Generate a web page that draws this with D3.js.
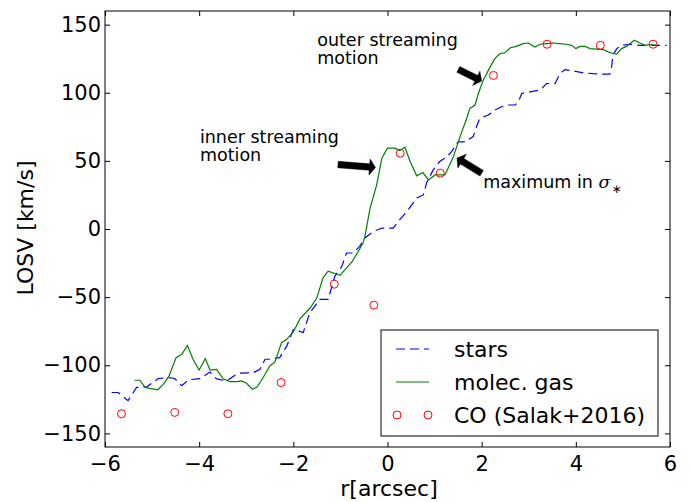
<!DOCTYPE html>
<html><head><meta charset="utf-8">
<script src="https://cdn.jsdelivr.net/npm/d3@7"></script>
<style>
body{margin:0;background:#fff}
svg{display:block}
text{font-family:"DejaVu Sans",sans-serif;fill:#000}
</style>
</head><body>
<svg id="c" width="691" height="502"></svg>
<script>
// ---- data ----
const xTicks = [-6, -4, -2, 0, 2, 4, 6];
const yTicks = [-150, -100, -50, 0, 50, 100, 150];

const starR = [-5.86,-5.72,-5.51,-5.33,-5.12,-4.87,-4.66,-4.52,-4.37,-4.23,-3.98,-3.77,-3.63,-3.42,-3.17,-2.85,-2.71,-2.6,-2.5,-2.29,-2.14,-2.0,-1.79,-1.65,-1.44,-1.26,-1.12,-0.97,-0.87,-0.73,-0.59,-0.48,-0.3,-0.12,0.12,0.26,0.44,0.62,0.76,0.83,0.97,1.11,1.26,1.36,1.5,1.64,1.82,1.89,1.96,2.14,2.28,2.42,2.56,2.71,2.78,2.85,3.03,3.24,3.38,3.56,3.66,3.77,3.94,4.16,4.37,4.58,4.72,4.76,4.79,4.87,4.97,5.15,5.36,5.64,5.93];
const starV = [-120,-120,-126,-116.3,-116,-109.8,-109,-109.7,-115,-110.7,-109.8,-105,-110,-111.5,-105.9,-105.4,-103,-95.6,-95.6,-94.4,-86,-73.7,-76,-61.5,-51.7,-51.7,-34.7,-27.4,-17.6,-17.6,-12.7,-6.6,-1.8,0.7,0.7,6.8,14.1,22.7,25,33.7,43.4,49.5,53,56.8,64,64,67.8,75,81.2,83.6,87.3,89.7,91,91,93.4,99.5,100.7,102,106.8,106.8,114,117,116,114.6,114,113.6,113.6,119,127.8,132.4,134.8,135.6,134.8,134.8,134.8];

const gasR = [-5.37,-5.26,-5.15,-5.05,-4.88,-4.76,-4.64,-4.49,-4.37,-4.25,-4.13,-4.0,-3.87,-3.77,-3.63,-3.49,-3.35,-3.2,-3.1,-3.0,-2.87,-2.77,-2.64,-2.5,-2.39,-2.25,-2.14,-2.0,-1.86,-1.64,-1.5,-1.37,-1.26,-1.01,-0.76,-0.64,-0.52,-0.48,-0.37,-0.23,-0.12,0.0,0.16,0.26,0.37,0.48,0.62,0.75,0.87,1.01,1.22,1.4,1.54,1.67,1.75,1.86,1.93,2.03,2.18,2.28,2.39,2.49,2.61,2.74,2.88,2.99,3.13,3.24,3.38,3.52,3.66,3.8,3.91,4.0,4.09,4.2,4.3,4.44,4.58,4.69,4.79,4.87,4.97,5.08,5.15,5.24,5.36,5.47,5.57,5.7];
const gasV = [-111,-111,-116.3,-117,-118,-114,-107.8,-94.4,-92,-85.6,-95.6,-103.5,-95.1,-103.5,-103,-110,-112,-112,-111.5,-113,-117.6,-116,-109,-100.5,-97.6,-83.4,-81,-75.6,-66,-57.8,-50.5,-35.8,-31,-34,-24.4,-17.6,-10.3,-5.4,15.4,32.4,52,59.3,59.3,57.5,60,49.5,39,41.4,36,39.7,39.7,53,67.8,80,88.5,91,99.5,109,119,125,128.8,129.2,133,134,136,136.5,133.6,135.6,136,136.5,136,135.6,134.8,132.4,134,134,132.4,132,131.7,130,128.8,128.3,132.4,134,136,138.5,136.5,134.8,135.4,135];

const coR = [-5.65,-4.52,-3.39,-2.26,-1.13,-0.29,0.27,1.12,2.25,3.39,4.52,5.64];
const coV = [-135.6,-134.6,-135.6,-112.7,-40.5,-55.9,55.6,41,112.7,135.6,134.8,135.6];

const legendLabels = ["stars", "molec. gas", "CO (Salak+2016)"];

// annotations in data coordinates
const annoTexts = [
  {lines:["outer streaming","motion"], r:-1.493, v:134.5},
  {lines:["inner streaming","motion"], r:-3.984, v:63.3}
];
const arrows = [
  {from:[-1.051,47.3], to:[-0.255,45.1]},
  {from:[1.504,117.1], to:[2.0,108.6]},
  {from:[2.0,40.9], to:[1.476,52.1]}
];

// ---- chart ----
const svg = d3.select("#c");
const L = 105, R = 670, T = 11, B = 447;
const x = d3.scaleLinear().domain([-6, 6]).range([L, R]);
const y = d3.scaleLinear().domain([-160, 160]).range([B, T]);

svg.append("defs").append("clipPath").attr("id","clip")
  .append("rect").attr("x",L).attr("y",T).attr("width",R-L).attr("height",B-T);

const fmt = d3.format("d");
const fs = "21px";

// axes
const gx = svg.append("g").attr("transform",`translate(0,${B})`)
  .call(d3.axisBottom(x).tickValues(xTicks).tickFormat(fmt).tickSizeInner(-5).tickSizeOuter(0).tickPadding(9));
const gxt = svg.append("g").attr("transform",`translate(0,${T})`)
  .call(d3.axisTop(x).tickValues(xTicks).tickFormat("").tickSizeInner(-5).tickSizeOuter(0));
const gy = svg.append("g").attr("transform",`translate(${L},0)`)
  .call(d3.axisLeft(y).tickValues(yTicks).tickFormat(fmt).tickSizeInner(-5).tickSizeOuter(0).tickPadding(4));
const gyr = svg.append("g").attr("transform",`translate(${R},0)`)
  .call(d3.axisRight(y).tickValues(yTicks).tickFormat("").tickSizeInner(-5).tickSizeOuter(0));
[gx,gxt,gy,gyr].forEach(g=>{
  g.select(".domain").remove();
  g.selectAll("line").attr("stroke","#000").attr("stroke-width",1);
  g.selectAll("text").attr("font-size",fs).attr("font-family","DejaVu Sans").attr("fill","#000");
});

// series
const line = d3.line().x(d=>x(d[0])).y(d=>y(d[1]));
const plot = svg.append("g").attr("clip-path","url(#clip)");
plot.append("path").datum(d3.zip(starR, starV))
  .attr("d", line).attr("fill","none").attr("stroke","#0000ff")
  .attr("stroke-width",1.2).attr("stroke-dasharray","9,5");
plot.append("path").datum(d3.zip(gasR, gasV))
  .attr("d", line).attr("fill","none").attr("stroke","#008000")
  .attr("stroke-width",1.2);
plot.selectAll("circle.co").data(d3.zip(coR, coV)).join("circle")
  .attr("class","co").attr("cx",d=>x(d[0])).attr("cy",d=>y(d[1])).attr("r",4)
  .attr("fill","none").attr("stroke","#ff0000").attr("stroke-width",1);

// frame
svg.append("rect").attr("x",L).attr("y",T).attr("width",R-L).attr("height",B-T)
  .attr("fill","none").attr("stroke","#000").attr("stroke-width",1);

// axis labels
svg.append("text").attr("x",389).attr("y",496).attr("text-anchor","middle")
  .attr("font-size","22px").text("r[arcsec]");
svg.append("text").attr("transform","translate(33,228) rotate(-90)")
  .attr("text-anchor","middle").attr("font-size","22px").text("LOSV [km/s]");

// annotations
annoTexts.forEach(a=>{
  const t = svg.append("text").attr("font-size","17.5px")
    .attr("x",x(a.r)).attr("y",y(a.v));
  a.lines.forEach((s,i)=>{
    t.append("tspan").attr("x",x(a.r)).attr("dy", i===0?0:18.5).text(s);
  });
});
const mt = svg.append("text").attr("font-size","17.5px").attr("x",x(2.033)).attr("y",y(30.3));
mt.append("tspan").text("maximum in ");
mt.append("tspan").attr("font-family","DejaVu Serif").attr("font-style","italic").text("σ");
mt.append("tspan").attr("font-size","12px").attr("dx",1).attr("dy",5).text("∗");

// arrows
arrows.forEach(a=>{
  const tx=x(a.from[0]), ty=y(a.from[1]), px=x(a.to[0]), py=y(a.to[1]);
  const dx=px-tx, dy=py-ty, len=Math.hypot(dx,dy);
  const ux=dx/len, uy=dy/len, nx=-uy, ny=ux;
  const w=6.5/2, hw=16/2, hl=6;
  const bx=px-ux*hl, by=py-uy*hl;
  const pts=[
    [tx+nx*w,ty+ny*w],[bx+nx*w,by+ny*w],[bx+nx*hw,by+ny*hw],[px,py],
    [bx-nx*hw,by-ny*hw],[bx-nx*w,by-ny*w],[tx-nx*w,ty-ny*w]
  ];
  svg.append("polygon").attr("points",pts.map(p=>p.join(",")).join(" "))
    .attr("fill","#000").attr("stroke","#000").attr("stroke-width",0.5);
});

// legend
const lg = svg.append("g");
lg.append("rect").attr("x",381).attr("y",330).attr("width",277).attr("height",106)
  .attr("fill","#fff").attr("stroke","#000").attr("stroke-width",1);
const rowsY = [349, 382, 415];
lg.append("line").attr("x1",396).attr("x2",429).attr("y1",rowsY[0]).attr("y2",rowsY[0])
  .attr("stroke","#0000ff").attr("stroke-width",1.2).attr("stroke-dasharray","9,5");
lg.append("line").attr("x1",396).attr("x2",429).attr("y1",rowsY[1]).attr("y2",rowsY[1])
  .attr("stroke","#008000").attr("stroke-width",1.2);
[397,428].forEach(cx=>lg.append("circle").attr("cx",cx).attr("cy",rowsY[2]).attr("r",4)
  .attr("fill","none").attr("stroke","#ff0000").attr("stroke-width",1));
legendLabels.forEach((s,i)=>{
  lg.append("text").attr("x",454).attr("y",rowsY[i]).attr("dy","0.36em")
    .attr("font-size","22px").text(s);
});
</script>
</body></html>
